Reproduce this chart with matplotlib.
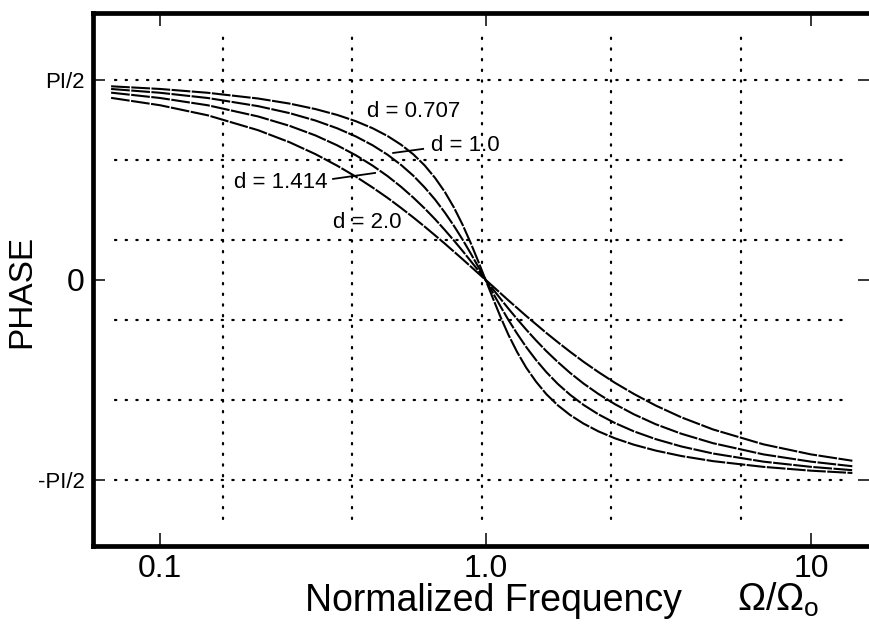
import numpy as np
import matplotlib
matplotlib.use("Agg")
import matplotlib.pyplot as plt
from matplotlib.ticker import NullLocator

plt.rcParams['font.family'] = ['Liberation Sans', 'DejaVu Sans']
plt.rcParams['mathtext.fontset'] = 'custom'
plt.rcParams['mathtext.rm'] = 'Liberation Sans'
plt.rcParams['mathtext.it'] = 'Liberation Sans:italic'

# Normalized frequency Omega/Omega_0
freq = [0.0707, 0.1, 0.14, 0.2, 0.25, 0.3, 0.35, 0.4, 0.45, 0.5, 0.55, 0.6,
        0.65, 0.7, 0.75, 0.8, 0.85, 0.9, 0.95, 1.0,
        1.053, 1.111, 1.176, 1.25, 1.333, 1.429, 1.538, 1.667, 1.818, 2.0,
        2.222, 2.5, 2.857, 3.333, 4.0, 5.0, 7.143, 10.0, 13.4]

# Phase (rad) for each damping value
phase_d0707 = [1.521, 1.500, 1.470, 1.425, 1.385, 1.342, 1.296, 1.246, 1.191,
               1.130, 1.062, 0.986, 0.899, 0.800, 0.690, 0.567, 0.433, 0.290,
               0.144, 0.0,
               -0.144, -0.290, -0.433, -0.567, -0.690, -0.800, -0.899, -0.986,
               -1.062, -1.130, -1.191, -1.246, -1.296, -1.342, -1.385, -1.425,
               -1.470, -1.500, -1.518]
phase_d1 = [1.500, 1.470, 1.429, 1.365, 1.310, 1.252, 1.191, 1.126, 1.057,
            0.983, 0.903, 0.818, 0.726, 0.630, 0.528, 0.423, 0.316, 0.208,
            0.102, 0.0,
            -0.102, -0.208, -0.316, -0.423, -0.528, -0.630, -0.726, -0.818,
            -0.903, -0.983, -1.057, -1.126, -1.191, -1.252, -1.310, -1.365,
            -1.429, -1.470, -1.496]
phase_d1414 = [1.471, 1.429, 1.372, 1.284, 1.210, 1.135, 1.057, 0.978, 0.897,
               0.815, 0.731, 0.646, 0.561, 0.476, 0.391, 0.308, 0.227, 0.148,
               0.073, 0.0,
               -0.073, -0.148, -0.227, -0.308, -0.391, -0.476, -0.561, -0.646,
               -0.731, -0.815, -0.897, -0.978, -1.057, -1.135, -1.210, -1.284,
               -1.372, -1.429, -1.465]
phase_d2 = [1.430, 1.372, 1.293, 1.176, 1.081, 0.988, 0.897, 0.810, 0.725,
            0.644, 0.565, 0.490, 0.418, 0.349, 0.284, 0.221, 0.162, 0.105,
            0.051, 0.0,
            -0.051, -0.105, -0.162, -0.221, -0.284, -0.349, -0.418, -0.490,
            -0.565, -0.644, -0.725, -0.810, -0.897, -0.988, -1.081, -1.176,
            -1.293, -1.372, -1.422]

curve_labels = ["d = 0.707", "d = 1.0", "d = 1.414", "d = 2.0"]
x_ticks = [0.1, 1.0, 10.0]
x_tick_labels = ["0.1", "1.0", "10"]
y_ticks = [-np.pi / 2, 0.0, np.pi / 2]
y_tick_labels = ["-PI/2", "0", "PI/2"]

W, H = 869, 630
fig = plt.figure(figsize=(W / 100, H / 100), dpi=100)
ax = fig.add_axes([93 / W, (H - 545.5) / H, (870 - 93) / W, (545.5 - 13) / H])
ax.set_xscale('log')
ax.set_xlim(0.0622, 15.18)
ax.set_ylim(-2.088, 2.097)

# dotted grid: horizontal lines at odd multiples of pi/10, vertical at sixths
for k in (-5, -3, -1, 1, 3, 5):
    ax.plot([0.028, 0.965], [k * np.pi / 10] * 2, transform=ax.get_yaxis_transform(),
            color='black', lw=1.6, dashes=(0.6, 4.2), dash_capstyle='round')
for k in range(1, 6):
    ax.plot([k / 6, k / 6], [0.05, 0.955], transform=ax.transAxes,
            color='black', lw=1.6, dashes=(0.6, 4.2), dash_capstyle='round')

for ph in (phase_d0707, phase_d1, phase_d1414, phase_d2):
    ax.plot(freq, ph, color='black', lw=1.5, dashes=(9, 0.7))

# curve labels and leaders
txt_kw = dict(ha='center', va='center', fontsize=16, color='black')
ax.text(0.603, 1.319, curve_labels[0], **txt_kw)
ax.text(0.865, 1.052, curve_labels[1], **txt_kw)
ax.text(0.2354, 0.762, curve_labels[2], **txt_kw)
ax.text(0.434, 0.448, curve_labels[3], **txt_kw)
ax.plot([0.520, 0.643], [0.997, 1.029], color='black', lw=1.3)
ax.plot([0.340, 0.4576], [0.793, 0.840], color='black', lw=1.3)

for side in ('left', 'top', 'bottom'):
    ax.spines[side].set_linewidth(3.4)
ax.spines['right'].set_visible(False)

ax.xaxis.set_minor_locator(NullLocator())
ax.set_xticks(x_ticks, x_tick_labels)
ax.set_yticks(y_ticks, y_tick_labels)
ax.tick_params(axis='both', which='major', direction='in', top=True, right=True,
               width=1.1, pad=6)
ax.tick_params(axis='x', length=9.5, labelsize=23)
ax.tick_params(axis='y', length=8.5)
for lab in ax.get_yticklabels():
    lab.set_fontsize(23 if lab.get_text() == "0" else 16)

fig.text(22 / W, 1 - 291 / H, "PHASE", rotation=90, ha='center', va='center',
         fontsize=24)
fig.text(305 / W, 1 - 611 / H, "Normalized Frequency", ha='left', va='baseline',
         fontsize=27)
fig.text(737 / W, 1 - 611 / H, r"$\mathrm{Ω/Ω}_{\mathrm{o}}$", ha='left',
         va='baseline', fontsize=27)

fig.savefig("out.png", dpi=100, facecolor='white')
